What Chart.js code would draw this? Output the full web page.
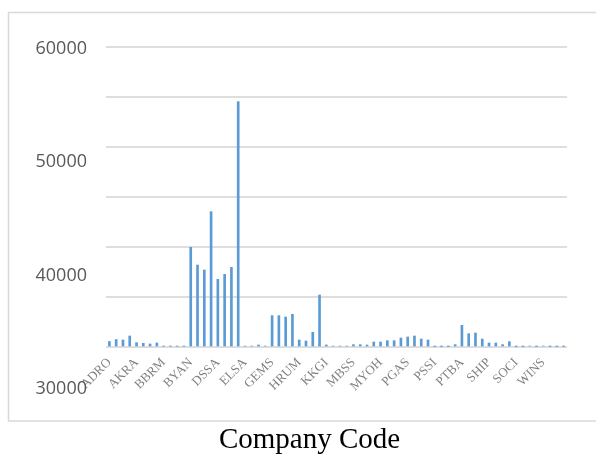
<!DOCTYPE html>
<html>
<head>
<meta charset="utf-8">
<script src="https://cdn.jsdelivr.net/npm/chart.js@4/dist/chart.umd.min.js"></script>
<style>
  html, body { margin: 0; padding: 0; background: #ffffff; }
  #wrap { position: relative; width: 596px; height: 457px; overflow: hidden; }
  #chart { position: absolute; left: 0; top: 0; }
  #xtitle {
    position: absolute; left: 0; top: 424px; width: 619px;
    text-align: center; font-family: "Liberation Serif", "Times New Roman", serif;
    font-size: 29px; line-height: 29px; color: #000000; white-space: nowrap;
  }
</style>
</head>
<body>
<div id="wrap">
  <canvas id="chart" width="596" height="457"></canvas>
  <div id="xtitle">Company Code</div>
</div>
<script>
// Company codes, each observed over four years
const companies = ["ADRO", "AKRA", "BBRM", "BYAN", "DSSA", "ELSA", "GEMS", "HRUM", "KKGI",
                   "MBSS", "MYOH", "PGAS", "PSSI", "PTBA", "SHIP", "SOCI", "WINS"];
const years = [1, 2, 3, 4];

// One value per company-year, in company order
const values = [
  1100, 1500, 1400, 2200,     // ADRO
  870, 730, 600, 800,         // AKRA
  150, 150, 150, 150,         // BBRM
  19940, 16400, 15400, 27070, // BYAN
  13530, 14530, 15930, 49070, // DSSA
  200, 200, 400, 200,         // ELSA
  6270, 6270, 6000, 6530,     // GEMS
  1400, 1200, 2930, 10400,    // HRUM
  400, 200, 200, 200,         // KKGI
  470, 470, 400, 1000,        // MBSS
  1000, 1270, 1270, 1800,     // MYOH
  2000, 2200, 1600, 1400,     // PGAS
  100, 100, 100, 470,         // PSSI
  4330, 2670, 2800, 1600,     // PTBA
  800, 800, 470, 1070,        // SHIP
  100, 100, 200, 100,         // SOCI
  200, 100, 100, 100          // WINS
];

// Printed value labels on the left axis
const yTickLabels = [30000, 40000, 50000, 60000];

const categories = [];
companies.forEach(c => years.forEach(() => categories.push(c)));

// Light frame around the chart
const framePlugin = {
  id: 'frame',
  beforeDraw(chart) {
    const ctx = chart.ctx;
    ctx.save();
    ctx.strokeStyle = '#d9d9d9';
    ctx.lineWidth = 1.5;
    ctx.strokeRect(8.5, 12.5, 620, 408.5);
    ctx.restore();
  }
};

new Chart(document.getElementById('chart'), {
  type: 'bar',
  data: {
    labels: categories,
    datasets: [{
      data: values,
      backgroundColor: '#5b9bd5',
      borderWidth: 0,
      barThickness: 2
    }]
  },
  options: {
    responsive: false,
    animation: false,
    devicePixelRatio: 1,
    layout: { padding: { left: 35, top: 47, right: 29, bottom: 50 } },
    plugins: { legend: { display: false }, tooltip: { enabled: false }, title: { display: false } },
    scales: {
      x: {
        grid: { display: false, drawTicks: false },
        border: { display: false },
        ticks: {
          autoSkip: false,
          minRotation: 45,
          maxRotation: 45,
          padding: 8,
          color: '#7f7f7f',
          font: { family: 'Liberation Serif', size: 13 },
          callback: (v, i) => (i % years.length === 0 ? categories[i] : '')
        },
        afterFit: s => { s.height = 60; s.paddingLeft = 0; s.paddingRight = 0; }
      },
      y: {
        position: 'left',
        weight: 0,
        min: 0,
        max: 60000,
        grid: { color: '#dedede', lineWidth: 2, drawTicks: false },
        border: { display: false },
        ticks: { display: false, stepSize: 10000 },
        afterFit: s => { s.width = 0; }
      },
      yl: {
        type: 'linear',
        position: 'left',
        weight: 1,
        min: 33724,
        max: 60132,
        grid: { display: false, drawTicks: false },
        border: { display: false },
        ticks: {
          autoSkip: false,
          padding: 19,
          color: '#595959',
          font: { family: 'Open Sans', size: 18 },
          callback: v => String(v)
        },
        afterBuildTicks: s => { s.ticks = yTickLabels.map(v => ({ value: v })); },
        afterFit: s => { s.width = 71; }
      }
    }
  },
  plugins: [framePlugin]
});
</script>
</body>
</html>
